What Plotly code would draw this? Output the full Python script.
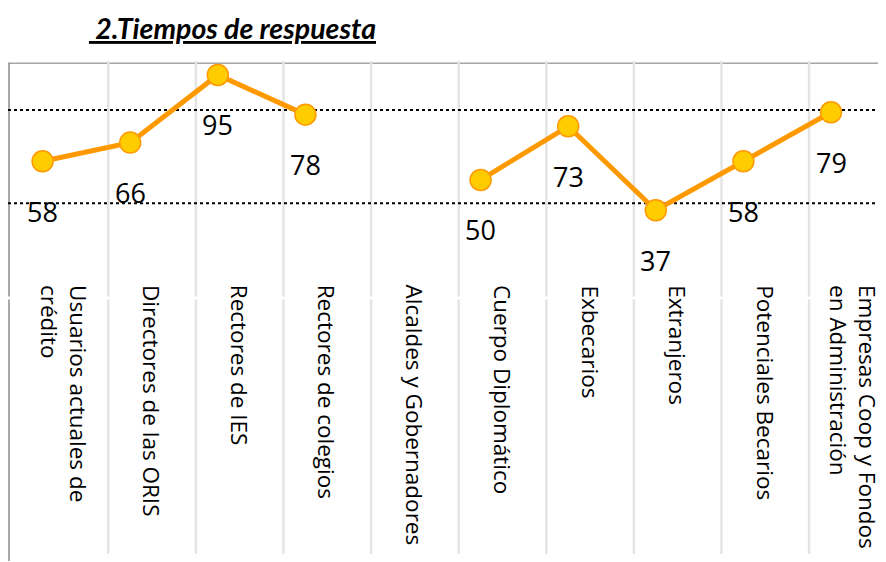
import plotly.graph_objects as go

categories = [
    "Usuarios actuales de<br>crédito",
    "Directores de las ORIS",
    "Rectores de IES",
    "Rectores de colegios",
    "Alcaldes y Gobernadores",
    "Cuerpo Diplomático",
    "Exbecarios",
    "Extranjeros",
    "Potenciales Becarios",
    "Empresas Coop y Fondos<br>en Administración",
]
values = [58, 66, 95, 78, None, 50, 73, 37, 58, 79]
title_text = " 2.Tiempos de respuesta"
dotted_levels = [40, 80]

# page offset (browser body margin)
OFF = 8
W, H = 886 - OFF, 562 - OFF

# mapping of category index / value to page pixels
CX0, CDX = 64.5, 87.6      # page x of category 0 label centre, spacing
VY0, VDY = 296.6, 2.333    # page y of value 0, pixels per unit

def page_x_to_cat(px):
    return (px - CX0) / CDX

def page_y_to_val(py):
    return (VY0 - py) / VDY

X0, X1 = page_x_to_cat(OFF), page_x_to_cat(886)
Y0, Y1 = page_y_to_val(562), page_y_to_val(OFF)

n = len(categories)
idx = list(range(n))
marker_offset = -0.25
xs = [i + marker_offset for i in idx]

fig = go.Figure()
fig.add_trace(go.Scatter(
    x=xs, y=values, mode="lines+markers", connectgaps=False,
    line=dict(color="#FF9900", width=5),
    marker=dict(size=21, color="#FFCC00", line=dict(color="#FF9900", width=1.5)),
    hoverinfo="skip", showlegend=False,
))

shapes = []
shapes.append(dict(type="line", xref="x", yref="y", x0=X0, x1=X1, y0=100, y1=100,
                   line=dict(color="#A6A6A6", width=1.5), layer="below"))
top_sep = page_y_to_val(61)
bot_sep = page_y_to_val(554)
gap = page_y_to_val(299.5)
for i in range(n - 1):
    xv = i + 0.5
    shapes.append(dict(type="line", xref="x", yref="y", x0=xv, x1=xv, y0=top_sep, y1=0,
                       line=dict(color="#E4E4E4", width=2.5), layer="below"))
    shapes.append(dict(type="line", xref="x", yref="y", x0=xv, x1=xv, y0=gap, y1=bot_sep,
                       line=dict(color="#E4E4E4", width=2.5), layer="below"))
xl = page_x_to_cat(9)
shapes.append(dict(type="line", xref="x", yref="y", x0=xl, x1=xl, y0=100, y1=0,
                   line=dict(color="#8C8C8C", width=1.5), layer="below"))
shapes.append(dict(type="line", xref="x", yref="y", x0=xl, x1=xl, y0=gap, y1=page_y_to_val(561),
                   line=dict(color="#8C8C8C", width=1.5), layer="below"))
for lv in dotted_levels:
    shapes.append(dict(type="line", xref="x", yref="y", x0=X0, x1=X1, y0=lv, y1=lv,
                       line=dict(color="#000000", width=2, dash="dot"), layer="below"))

annotations = []
for xm, v in zip(xs, values):
    if v is None:
        continue
    annotations.append(dict(x=xm, y=v, xref="x", yref="y", text=str(v), showarrow=False,
                            yshift=-50, font=dict(family="Open Sans", size=27, color="#000000")))
label_top = page_y_to_val(283)
for i, c in zip(idx, categories):
    annotations.append(dict(x=i, y=label_top, xref="x", yref="y", text=c, showarrow=False,
                            textangle=90, xanchor="center", yanchor="top", align="left",
                            font=dict(family="Open Sans", size=22.5, color="#000000")))
annotations.append(dict(x=(232 - OFF) / W, y=1 - (28 - OFF) / H, xref="paper", yref="paper",
                        text="<b><i><u>" + title_text + "</u></i></b>", showarrow=False,
                        xanchor="center", yanchor="middle",
                        font=dict(family="Lato", size=28.5, color="#000000")))

fig.update_layout(
    width=W, height=H,
    margin=dict(l=0, r=0, t=0, b=0, pad=0, autoexpand=False),
    paper_bgcolor="#FFFFFF", plot_bgcolor="#FFFFFF",
    xaxis=dict(range=[X0, X1], visible=False, fixedrange=True),
    yaxis=dict(range=[Y0, Y1], visible=False, fixedrange=True),
    shapes=shapes, annotations=annotations, showlegend=False,
)

fig.write_html("out.html")
